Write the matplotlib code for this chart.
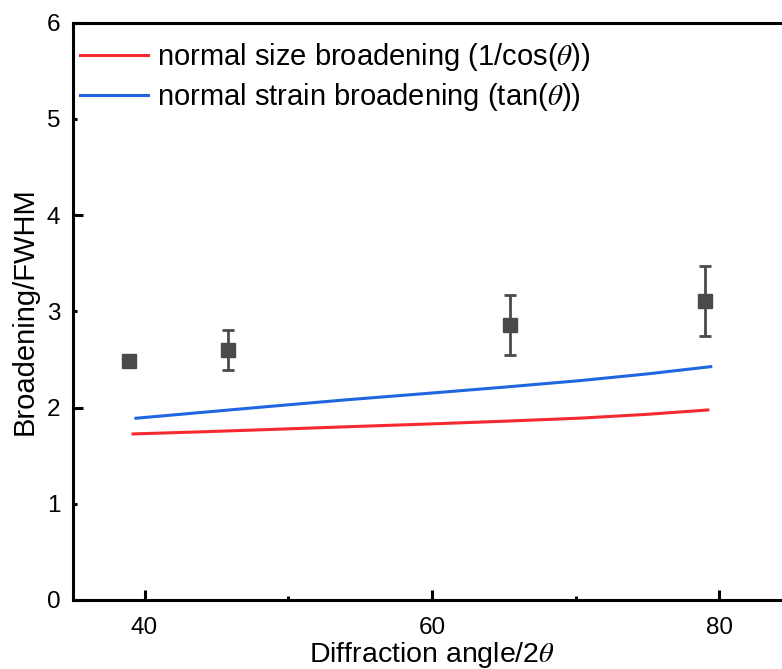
import matplotlib
matplotlib.use("Agg")
import matplotlib.pyplot as plt
from matplotlib.ticker import FixedLocator, NullFormatter, FixedFormatter

plt.rcParams['font.family'] = ['Liberation Sans', 'DejaVu Sans']
plt.rcParams['mathtext.fontset'] = 'stix'

# Measured data (squares with error bars)
pt_x = [38.9, 45.8, 65.4, 79.0]
pt_y = [2.48, 2.60, 2.86, 3.11]
pt_err = [0.02, 0.21, 0.31, 0.365]

# Size broadening curve (1/cos(theta))
size_x = [39.2, 44.0, 48.7, 54.0, 59.9, 65.0, 70.3, 75.0, 79.2]
size_y = [1.726, 1.748, 1.772, 1.800, 1.830, 1.858, 1.890, 1.930, 1.975]

# Strain broadening curve (tan(theta))
strain_x = [39.4, 44.0, 48.7, 54.0, 59.9, 65.0, 70.3, 75.0, 79.4]
strain_y = [1.889, 1.950, 2.012, 2.080, 2.150, 2.212, 2.280, 2.350, 2.425]

x_major = [40, 60, 80]
x_minor = [50, 70]
y_major = [0, 2, 4, 6]
y_minor = [1, 3, 5]

W, H = 782, 669
fig = plt.figure(figsize=(W / 100, H / 100), dpi=100)
ax = fig.add_axes([72.7 / W, (H - 600) / H, 718.5 / W, (600 - 22.7) / H])

ax.plot(size_x, size_y, color='#f5292f', lw=2.2, label='normal size broadening (1/cos($\\theta$))')
ax.plot(strain_x, strain_y, color='#1f66e0', lw=2.2, label='normal strain broadening (tan($\\theta$))')
ax.errorbar(pt_x, pt_y, yerr=pt_err, fmt='s', color='#4a4a4a', ms=9.5,
            elinewidth=2.0, capsize=4.5, capthick=2.0, zorder=3)

ax.set_xlim(35, 85)
ax.set_ylim(0, 6)

ax.xaxis.set_major_locator(FixedLocator(x_major))
ax.xaxis.set_minor_locator(FixedLocator(x_minor))
ax.xaxis.set_minor_formatter(NullFormatter())
ax.yaxis.set_major_locator(FixedLocator(y_major))
ax.yaxis.set_minor_locator(FixedLocator(y_minor))
ax.yaxis.set_minor_formatter(FixedFormatter([str(v) for v in y_minor]))

ax.tick_params(which='both', direction='in', labelsize=17.5, width=2.2,
               top=False, right=False)
ax.tick_params(axis='x', which='both', pad=12)
ax.tick_params(axis='y', which='both', pad=9)
ax.tick_params(which='major', length=7)
ax.tick_params(which='minor', length=3)

for s in ax.spines.values():
    s.set_linewidth(2.2)

ax.set_xlabel('Diffraction angle/2$\\theta$', fontsize=20.5, labelpad=1)
ax.set_ylabel('Broadening/FWHM', fontsize=21, labelpad=6)

ax.legend(loc='upper left', bbox_to_anchor=(-0.0145, 0.999), frameon=False,
          fontsize=21, handlelength=2.35, handletextpad=0.3, labelspacing=0.28,
          borderaxespad=0.2)

fig.savefig('out.png', dpi=100)
